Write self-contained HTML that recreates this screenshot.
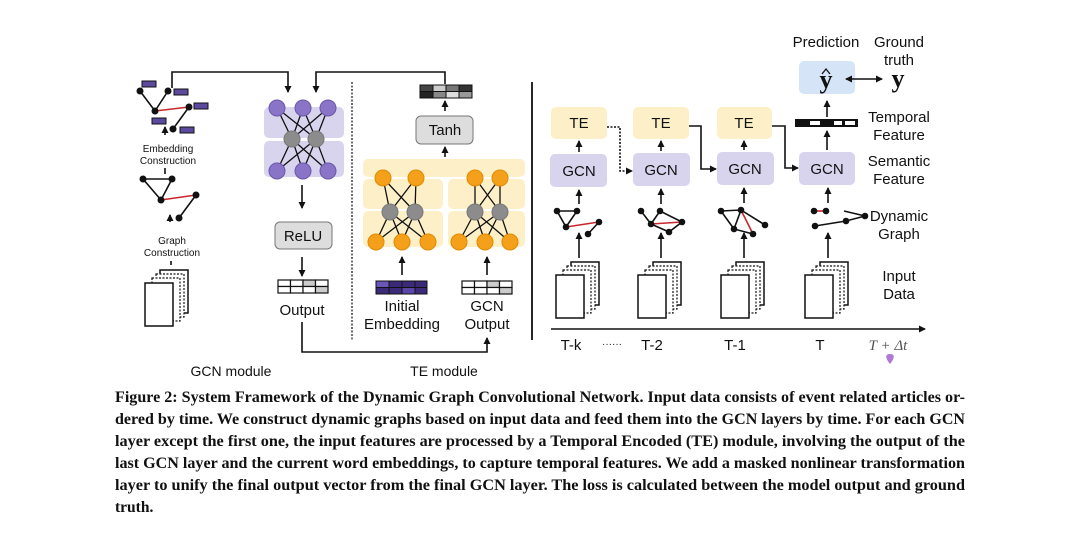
<!DOCTYPE html>
<html><head><meta charset="utf-8"><style>
html,body{margin:0;padding:0;background:#fff;width:1080px;height:535px;overflow:hidden}
svg{display:block}
.s{font-family:"Liberation Sans",sans-serif;fill:#111}
.c{font-family:"Liberation Serif",serif;font-weight:bold;font-size:15.5px;fill:#111}
</style></head><body>
<svg width="1080" height="535" viewBox="0 0 1080 535" xmlns="http://www.w3.org/2000/svg">
<defs>
<marker id="a" markerWidth="8" markerHeight="8" refX="6" refY="4" orient="auto" markerUnits="userSpaceOnUse"><path d="M0,0.5 L7,4 L0,7.5z" fill="#111"/></marker>
<marker id="b" markerWidth="8" markerHeight="8" refX="1" refY="4" orient="auto" markerUnits="userSpaceOnUse"><path d="M7,0.5 L0,4 L7,7.5z" fill="#111"/></marker>
<g id="doc">
<rect x="15" y="0" width="28" height="43" fill="#fff" stroke="#111" stroke-width="1.5"/>
<rect x="11" y="4" width="28" height="43" fill="#fff" stroke="#111" stroke-width="1.2" stroke-dasharray="2,1.5"/>
<rect x="7" y="8" width="28" height="43" fill="#fff" stroke="#111" stroke-width="1.2" stroke-dasharray="2,1.5"/>
<rect x="0" y="13" width="28" height="43" fill="#fff" stroke="#111" stroke-width="1.5"/>
</g>
</defs>
<g stroke="#111" stroke-width="1.6" fill="none">
<line x1="140" y1="91" x2="155" y2="111"/><line x1="168" y1="91" x2="155" y2="111"/>
<line x1="173" y1="129" x2="189" y2="107"/>
<line x1="155" y1="111" x2="189" y2="107" stroke="#c8282b"/>
<path d="M143,179 L172,179 L161,200 Z"/><line x1="179" y1="218" x2="196" y2="195"/>
<line x1="161" y1="200" x2="196" y2="195" stroke="#c8282b"/>
<line x1="165" y1="135" x2="165" y2="127" marker-end="url(#a)"/>
<line x1="165" y1="174" x2="165" y2="168"/>
<line x1="170" y1="222" x2="170" y2="215" marker-end="url(#a)"/>
<line x1="171" y1="261" x2="171" y2="265"/>
<path d="M172,88 V72 H288 V92" marker-end="url(#a)"/>
<path d="M445,84 V72 H316 V92" marker-end="url(#a)"/>
<line x1="302" y1="185" x2="302" y2="208" marker-end="url(#a)"/>
<line x1="302" y1="257" x2="302" y2="276" marker-end="url(#a)"/>
<path d="M302,322 V352 H487 V338" marker-end="url(#a)"/>
<line x1="445" y1="111" x2="445" y2="101" marker-end="url(#a)"/>
<line x1="445" y1="157" x2="445" y2="147" marker-end="url(#a)"/>
<line x1="402" y1="275" x2="402" y2="257" marker-end="url(#a)"/>
<line x1="487" y1="275" x2="487" y2="257" marker-end="url(#a)"/>
</g>
<line x1="352" y1="82" x2="352" y2="340" stroke="#111" stroke-width="1.2" stroke-dasharray="2,1.5"/>
<line x1="532" y1="82" x2="532" y2="340" stroke="#111" stroke-width="1.8"/>
<g fill="#111"><circle cx="140" cy="91" r="3.5"/><circle cx="168" cy="91" r="3.5"/><circle cx="155" cy="111" r="3.5"/><circle cx="189" cy="107" r="3.5"/><circle cx="173" cy="129" r="3.5"/>
<circle cx="143" cy="179" r="3.5"/><circle cx="172" cy="179" r="3.5"/><circle cx="161" cy="200" r="3.5"/><circle cx="196" cy="195" r="3.5"/><circle cx="179" cy="218" r="3.5"/></g>
<g fill="#5b4a9e" stroke="#111" stroke-width="1"><rect x="142" y="81" width="14" height="6"/><rect x="174" y="89" width="14" height="6"/><rect x="194" y="103" width="14" height="6"/><rect x="152" y="118" width="14" height="6"/><rect x="180" y="127" width="14" height="6"/></g>
<text class="s" font-size="10" text-anchor="middle" x="168" y="152">Embedding</text>
<text class="s" font-size="10" text-anchor="middle" x="168" y="164">Construction</text>
<text class="s" font-size="10" text-anchor="middle" x="172" y="244">Graph</text>
<text class="s" font-size="10" text-anchor="middle" x="172" y="256">Construction</text>
<use href="#doc" x="145" y="270"/>
<rect x="264" y="107" width="80" height="31" rx="5" fill="#d9d4ee"/>
<rect x="264" y="141" width="80" height="36" rx="5" fill="#d9d4ee"/>
<g stroke="#111" stroke-width="1.3">
<line x1="277" y1="108" x2="292" y2="139"/><line x1="277" y1="108" x2="316" y2="139"/><line x1="303" y1="108" x2="292" y2="139"/><line x1="303" y1="108" x2="316" y2="139"/><line x1="328" y1="108" x2="292" y2="139"/><line x1="328" y1="108" x2="316" y2="139"/>
<line x1="277" y1="171" x2="292" y2="139"/><line x1="277" y1="171" x2="316" y2="139"/><line x1="303" y1="171" x2="292" y2="139"/><line x1="303" y1="171" x2="316" y2="139"/><line x1="328" y1="171" x2="292" y2="139"/><line x1="328" y1="171" x2="316" y2="139"/>
</g>
<g fill="#8a74c7" stroke="#6a58a8"><circle cx="277" cy="108" r="8"/><circle cx="303" cy="108" r="8"/><circle cx="328" cy="108" r="8"/><circle cx="277" cy="171" r="8"/><circle cx="303" cy="171" r="8"/><circle cx="328" cy="171" r="8"/></g>
<g fill="#8c8c8c" stroke="#777"><circle cx="292" cy="139" r="8"/><circle cx="316" cy="139" r="8"/></g>
<rect x="275" y="222" width="57" height="27" rx="5" fill="#ddd" stroke="#777"/>
<text class="s" font-size="15" text-anchor="middle" x="303" y="241">ReLU</text>
<g stroke="#111" stroke-width="1.2" fill="#fff"><rect x="278" y="280" width="12.5" height="6.5"/><rect x="290.5" y="280" width="12.5" height="6.5"/><rect x="303" y="280" width="12.5" height="6.5" fill="#ccc"/><rect x="315.5" y="280" width="12.5" height="6.5"/><rect x="278" y="286.5" width="12.5" height="6.5"/><rect x="290.5" y="286.5" width="12.5" height="6.5"/><rect x="303" y="286.5" width="12.5" height="6.5"/><rect x="315.5" y="286.5" width="12.5" height="6.5" fill="#ccc"/></g>
<text class="s" font-size="15" text-anchor="middle" x="302" y="315">Output</text>
<g stroke="#111" stroke-width="1"><rect x="420" y="85" width="13" height="6.5" fill="#444"/><rect x="433" y="85" width="13" height="6.5" fill="#ccc"/><rect x="446" y="85" width="13" height="6.5" fill="#777"/><rect x="459" y="85" width="13" height="6.5" fill="#333"/><rect x="420" y="91.5" width="13" height="6.5" fill="#222"/><rect x="433" y="91.5" width="13" height="6.5" fill="#888"/><rect x="446" y="91.5" width="13" height="6.5" fill="#ddd"/><rect x="459" y="91.5" width="13" height="6.5" fill="#999"/></g>
<rect x="416" y="116" width="57" height="28" rx="5" fill="#ddd" stroke="#777"/>
<text class="s" font-size="15" text-anchor="middle" x="445" y="135">Tanh</text>
<rect x="363" y="159" width="162" height="18" rx="5" fill="#fdf0c8"/>
<rect x="363" y="179" width="80" height="30" rx="5" fill="#fdf0c8"/><rect x="363" y="211" width="80" height="36" rx="5" fill="#fdf0c8"/>
<rect x="448" y="179" width="77" height="30" rx="5" fill="#fdf0c8"/><rect x="448" y="211" width="77" height="36" rx="5" fill="#fdf0c8"/>
<g stroke="#111" stroke-width="1.3">
<line x1="383" y1="178" x2="390" y2="212"/><line x1="383" y1="178" x2="415" y2="212"/><line x1="416" y1="178" x2="390" y2="212"/><line x1="416" y1="178" x2="415" y2="212"/>
<line x1="376" y1="242" x2="390" y2="212"/><line x1="376" y1="242" x2="415" y2="212"/><line x1="402" y1="242" x2="390" y2="212"/><line x1="402" y1="242" x2="415" y2="212"/><line x1="428" y1="242" x2="390" y2="212"/><line x1="428" y1="242" x2="415" y2="212"/>
<line x1="475" y1="178" x2="475" y2="212"/><line x1="475" y1="178" x2="500" y2="212"/><line x1="500" y1="178" x2="475" y2="212"/><line x1="500" y1="178" x2="500" y2="212"/>
<line x1="459" y1="242" x2="475" y2="212"/><line x1="459" y1="242" x2="500" y2="212"/><line x1="485" y1="242" x2="475" y2="212"/><line x1="485" y1="242" x2="500" y2="212"/><line x1="510" y1="242" x2="475" y2="212"/><line x1="510" y1="242" x2="500" y2="212"/>
</g>
<g fill="#f5a01a" stroke="#e08a00"><circle cx="383" cy="178" r="8"/><circle cx="416" cy="178" r="8"/><circle cx="376" cy="242" r="8"/><circle cx="402" cy="242" r="8"/><circle cx="428" cy="242" r="8"/><circle cx="475" cy="178" r="8"/><circle cx="500" cy="178" r="8"/><circle cx="459" cy="242" r="8"/><circle cx="485" cy="242" r="8"/><circle cx="510" cy="242" r="8"/></g>
<g fill="#8c8c8c" stroke="#777"><circle cx="390" cy="212" r="8"/><circle cx="415" cy="212" r="8"/><circle cx="475" cy="212" r="8"/><circle cx="500" cy="212" r="8"/></g>
<g stroke="#111" stroke-width="1"><rect x="376" y="281" width="51" height="13" fill="#3b2a7a"/><rect x="376" y="281" width="13" height="6.5" fill="#6a55b8"/><rect x="402" y="287.5" width="13" height="6.5" fill="#5a46a8"/><line x1="389" y1="281" x2="389" y2="294"/><line x1="402" y1="281" x2="402" y2="294"/><line x1="415" y1="281" x2="415" y2="294"/><line x1="376" y1="287.5" x2="427" y2="287.5"/></g>
<g stroke="#111" stroke-width="1.2" fill="#fff"><rect x="462" y="281" width="12.5" height="6.5"/><rect x="474.5" y="281" width="12.5" height="6.5"/><rect x="487" y="281" width="12.5" height="6.5" fill="#ccc"/><rect x="499.5" y="281" width="12.5" height="6.5"/><rect x="462" y="287.5" width="12.5" height="6.5"/><rect x="474.5" y="287.5" width="12.5" height="6.5"/><rect x="487" y="287.5" width="12.5" height="6.5"/><rect x="499.5" y="287.5" width="12.5" height="6.5" fill="#ccc"/></g>
<text class="s" font-size="15" text-anchor="middle" x="402" y="311">Initial</text>
<text class="s" font-size="15" text-anchor="middle" x="402" y="329">Embedding</text>
<text class="s" font-size="15" text-anchor="middle" x="487" y="311">GCN</text>
<text class="s" font-size="15" text-anchor="middle" x="487" y="329">Output</text>
<text class="s" font-size="14" text-anchor="middle" x="231" y="376">GCN module</text>
<text class="s" font-size="14" text-anchor="middle" x="444" y="376">TE module</text>
<g fill="#fdf0c8"><rect x="551" y="107" width="56" height="32" rx="5"/><rect x="633" y="107" width="56" height="32" rx="5"/><rect x="717" y="107" width="55" height="32" rx="5"/></g>
<g fill="#d9d4ee"><rect x="550" y="154" width="57" height="33" rx="5"/><rect x="633" y="153" width="57" height="33" rx="5"/><rect x="717" y="152" width="57" height="33" rx="5"/><rect x="799" y="152" width="56" height="33" rx="5"/></g>
<rect x="799" y="61" width="56" height="33" rx="5" fill="#d5e5f7"/>
<g class="s" font-size="15" text-anchor="middle"><text x="579" y="128">TE</text><text x="661" y="128">TE</text><text x="744" y="128">TE</text>
<text x="579" y="176">GCN</text><text x="661" y="175">GCN</text><text x="745" y="174">GCN</text><text x="827" y="174">GCN</text>
<text x="826" y="47">Prediction</text><text x="899" y="47">Ground</text><text x="899" y="65">truth</text>
<text x="899" y="122">Temporal</text><text x="899" y="140">Feature</text><text x="899" y="166">Semantic</text><text x="899" y="184">Feature</text>
<text x="899" y="221">Dynamic</text><text x="899" y="239">Graph</text><text x="899" y="281">Input</text><text x="899" y="299">Data</text>
<text x="571" y="350">T-k</text><text x="652" y="350">T-2</text><text x="735" y="350">T-1</text><text x="820" y="350">T</text></g>
<text x="612" y="347" class="s" font-size="10" text-anchor="middle">······</text>
<text x="888" y="350" font-family="Liberation Serif,serif" font-style="italic" font-size="15" fill="#555" text-anchor="middle">T + Δt</text>
<path d="M890,364 C885,358 885,354 890,354 C895,354 895,358 890,364z" fill="#b07ad8"/>
<text x="826" y="88" font-family="Liberation Serif,serif" font-weight="bold" font-size="26" text-anchor="middle" fill="#111">y</text>
<path d="M822,74 L826,69 L830,74" fill="none" stroke="#111" stroke-width="1.3"/>
<text x="898" y="87" font-family="Liberation Serif,serif" font-weight="bold" font-size="26" text-anchor="middle" fill="#111">y</text>
<rect x="795" y="119" width="63" height="8" fill="#111"/>
<g fill="#fff"><rect x="810" y="121" width="10" height="4"/><rect x="834" y="121" width="8" height="4"/><rect x="845" y="121" width="10" height="4"/></g>
<g stroke="#111" stroke-width="1.6" fill="none">
<line x1="846" y1="79" x2="882" y2="79" marker-start="url(#b)" marker-end="url(#a)"/>
<path d="M607,127 H620 V171 H632" stroke-dasharray="2,1.5" marker-end="url(#a)"/>
<path d="M689,126 H701 V169 H716" marker-end="url(#a)"/>
<path d="M772,126 H785 V168 H798" marker-end="url(#a)"/>
<line x1="579" y1="152" x2="579" y2="141" marker-end="url(#a)"/><line x1="661" y1="151" x2="661" y2="141" marker-end="url(#a)"/><line x1="744" y1="150" x2="744" y2="141" marker-end="url(#a)"/>
<line x1="827" y1="150" x2="827" y2="131" marker-end="url(#a)"/><line x1="827" y1="117" x2="827" y2="101" marker-end="url(#a)"/>
<line x1="579" y1="204" x2="579" y2="190" marker-end="url(#a)"/><line x1="661" y1="204" x2="661" y2="189" marker-end="url(#a)"/><line x1="744" y1="203" x2="744" y2="188" marker-end="url(#a)"/><line x1="828" y1="203" x2="828" y2="188" marker-end="url(#a)"/>
<line x1="579" y1="258" x2="579" y2="233" marker-end="url(#a)"/><line x1="661" y1="258" x2="661" y2="233" marker-end="url(#a)"/><line x1="744" y1="258" x2="744" y2="233" marker-end="url(#a)"/><line x1="828" y1="258" x2="828" y2="233" marker-end="url(#a)"/>
<line x1="551" y1="329" x2="925" y2="329" marker-end="url(#a)"/>
<path d="M557,211 L577,211 L566,227 Z"/><line x1="588" y1="234" x2="599" y2="222"/>
<path d="M641,211 L651,224 L660,211 L682,222 L669,232 M651,224 L669,232"/>
<path d="M721,211 L741,210 L765,225 M741,210 L734,229 L753,234"/><path d="M721,211 L734,229"/>
<path d="M815,226 L846,221 L865,216 L844,211" />
</g>
<g stroke="#c8282b" stroke-width="1.6"><line x1="566" y1="227" x2="599" y2="222"/><line x1="651" y1="224" x2="682" y2="222"/><line x1="741" y1="210" x2="753" y2="234"/><line x1="814" y1="211" x2="826" y2="211"/></g>
<g fill="#111"><circle cx="557" cy="211" r="3.3"/><circle cx="577" cy="211" r="3.3"/><circle cx="566" cy="227" r="3.3"/><circle cx="599" cy="222" r="3.3"/><circle cx="588" cy="234" r="3.3"/>
<circle cx="641" cy="211" r="3.3"/><circle cx="660" cy="211" r="3.3"/><circle cx="651" cy="224" r="3.3"/><circle cx="682" cy="222" r="3.3"/><circle cx="669" cy="232" r="3.3"/>
<circle cx="721" cy="211" r="3.3"/><circle cx="741" cy="210" r="3.3"/><circle cx="734" cy="229" r="3.3"/><circle cx="765" cy="225" r="3.3"/><circle cx="753" cy="234" r="3.3"/>
<circle cx="814" cy="211" r="3.3"/><circle cx="826" cy="211" r="3.3"/><circle cx="846" cy="221" r="3.3"/><circle cx="865" cy="216" r="3.3"/><circle cx="815" cy="226" r="3.3"/></g>
<use href="#doc" x="556" y="262"/><use href="#doc" x="638" y="262"/><use href="#doc" x="721" y="262"/><use href="#doc" x="805" y="262"/>
<text class="c" x="115" y="402" textLength="850" lengthAdjust="spacingAndGlyphs">Figure 2: System Framework of the Dynamic Graph Convolutional Network. Input data consists of event related articles or-</text>
<text class="c" x="115" y="424" textLength="850" lengthAdjust="spacingAndGlyphs">dered by time. We construct dynamic graphs based on input data and feed them into the GCN layers by time. For each GCN</text>
<text class="c" x="115" y="446" textLength="850" lengthAdjust="spacingAndGlyphs">layer except the first one, the input features are processed by a Temporal Encoded (TE) module, involving the output of the</text>
<text class="c" x="115" y="468" textLength="850" lengthAdjust="spacingAndGlyphs">last GCN layer and the current word embeddings, to capture temporal features. We add a masked nonlinear transformation</text>
<text class="c" x="115" y="490" textLength="850" lengthAdjust="spacingAndGlyphs">layer to unify the final output vector from the final GCN layer. The loss is calculated between the model output and ground</text>
<text class="c" x="115" y="512">truth.</text>
</svg>
</body></html>
